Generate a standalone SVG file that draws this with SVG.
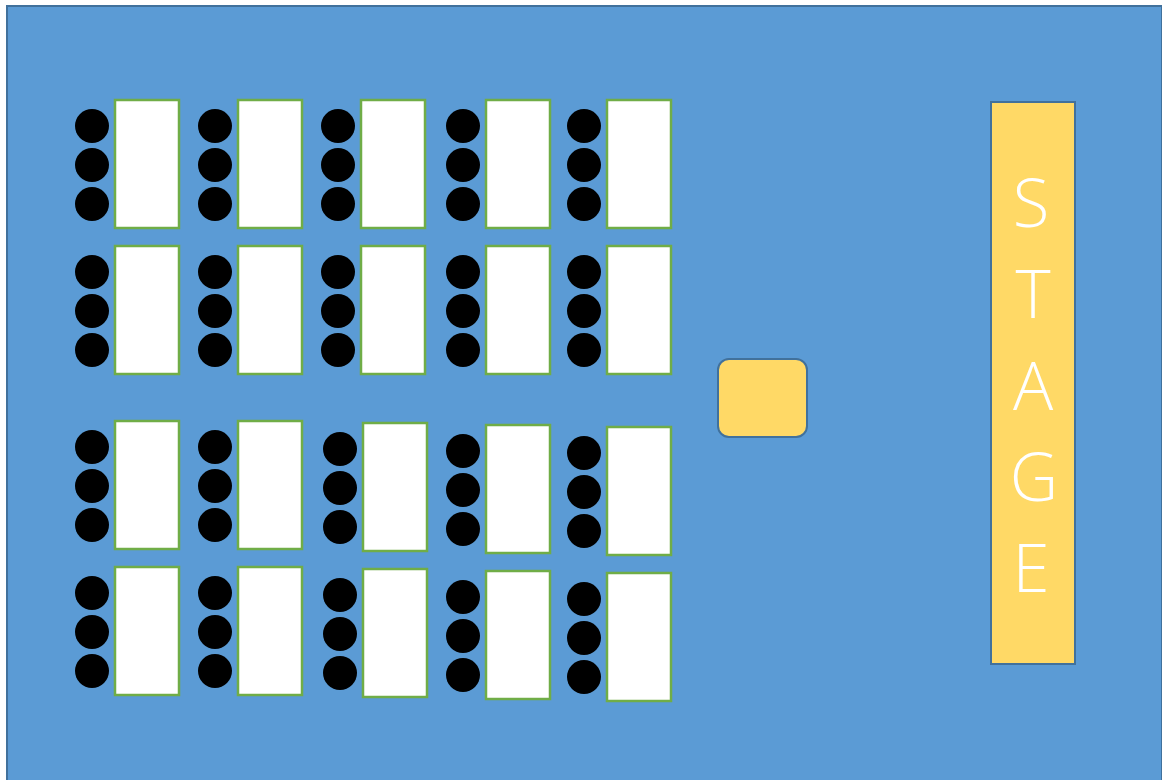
<svg xmlns="http://www.w3.org/2000/svg" width="1162" height="780" viewBox="0 0 1162 780">
<style>
.room{fill:#5B9BD5;stroke:#41719C;stroke-width:2}
.tbl{fill:#FFFFFF;stroke:#70AD47;stroke-width:2.5}
.seat{fill:#000000}
.gold{fill:#FFD966;stroke:#41719C;stroke-width:2}
.lbl{fill:#FFFFFF;font-family:"Open Sans","Liberation Sans",sans-serif;font-weight:300;font-size:67px;text-anchor:middle}
</style>
<defs>
<g id="set">
<rect class="tbl" x="23" y="0" width="64" height="128"/>
<circle class="seat" cx="0" cy="26" r="17"/>
<circle class="seat" cx="0" cy="65" r="17"/>
<circle class="seat" cx="0" cy="104" r="17"/>
</g>
</defs>
<rect id="room" class="room" x="7" y="6" width="1155" height="800"/>
<g id="table-r1c1"><use href="#set" x="92" y="100"/></g>
<g id="table-r1c2"><use href="#set" x="215" y="100"/></g>
<g id="table-r1c3"><use href="#set" x="338" y="100"/></g>
<g id="table-r1c4"><use href="#set" x="463" y="100"/></g>
<g id="table-r1c5"><use href="#set" x="584" y="100"/></g>
<g id="table-r2c1"><use href="#set" x="92" y="246"/></g>
<g id="table-r2c2"><use href="#set" x="215" y="246"/></g>
<g id="table-r2c3"><use href="#set" x="338" y="246"/></g>
<g id="table-r2c4"><use href="#set" x="463" y="246"/></g>
<g id="table-r2c5"><use href="#set" x="584" y="246"/></g>
<g id="table-r3c1"><use href="#set" x="92" y="421"/></g>
<g id="table-r3c2"><use href="#set" x="215" y="421"/></g>
<g id="table-r3c3"><use href="#set" x="340" y="423"/></g>
<g id="table-r3c4"><use href="#set" x="463" y="425"/></g>
<g id="table-r3c5"><use href="#set" x="584" y="427"/></g>
<g id="table-r4c1"><use href="#set" x="92" y="567"/></g>
<g id="table-r4c2"><use href="#set" x="215" y="567"/></g>
<g id="table-r4c3"><use href="#set" x="340" y="569"/></g>
<g id="table-r4c4"><use href="#set" x="463" y="571"/></g>
<g id="table-r4c5"><use href="#set" x="584" y="573"/></g>
<g id="podium"><rect class="gold" x="718" y="359" width="89" height="78" rx="11"/></g>
<g id="stage">
<rect class="gold" x="991" y="102" width="84" height="562"/>
<text class="lbl" x="1031" y="227">S</text>
<text class="lbl" x="1033" y="318">T</text>
<text class="lbl" x="1033" y="410">A</text>
<text class="lbl" x="1034" y="501">G</text>
<text class="lbl" x="1031" y="592">E</text>
</g>
<g id="connectors"/>
</svg>
